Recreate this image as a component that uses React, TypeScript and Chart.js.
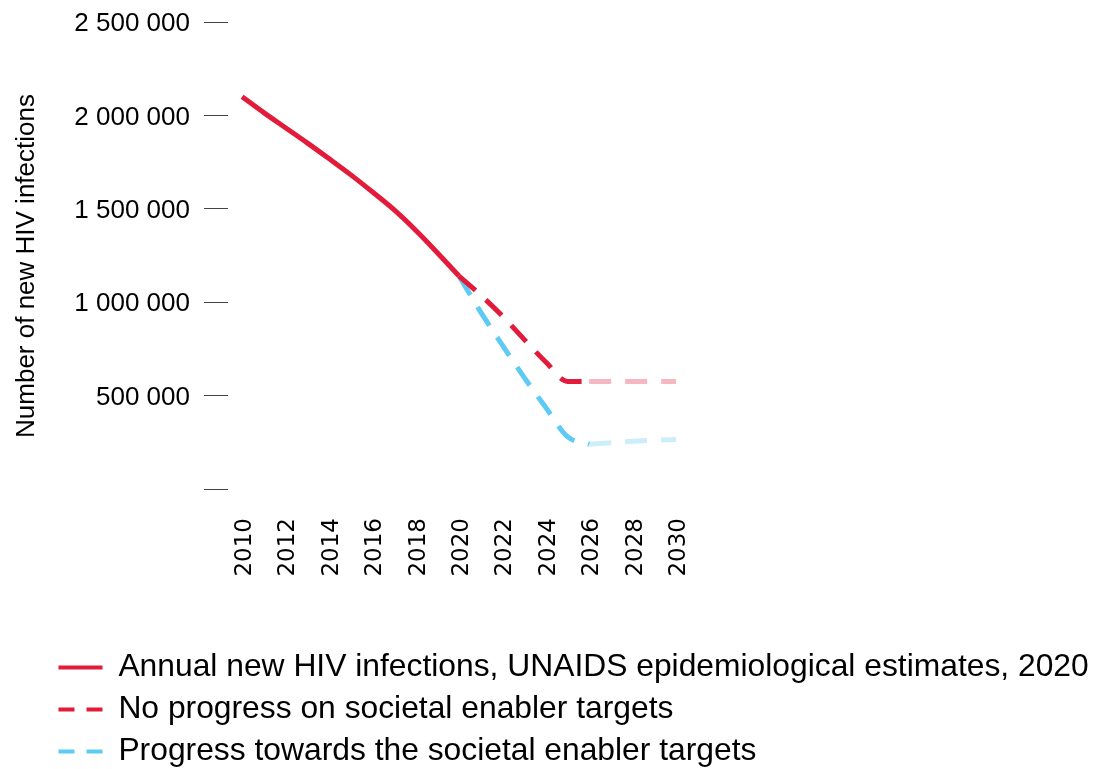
import React, { useEffect, useRef } from 'react';
import { Chart, registerables } from 'chart.js';

Chart.register(...registerables);

const estimateYears = [2010, 2011, 2012, 2013, 2014, 2015, 2016, 2017, 2018, 2019, 2020];
const estimateValues = [2100000, 2015000, 1934000, 1853000, 1769000, 1683000, 1591000, 1495000, 1385000, 1265000, 1140000];

const noProgressYears = [2020, 2021, 2022, 2023, 2024, 2025, 2026];
const noProgressValues = [1140000, 1038000, 926000, 801000, 680000, 576000, 575000];
const noProgressLaterYears = [2026, 2027, 2028, 2029, 2030];
const noProgressLaterValues = [575000, 575000, 575000, 575000, 575000];

const progressYears = [2020, 2021, 2022, 2023, 2024, 2025, 2026];
const progressValues = [1140000, 947000, 770000, 598000, 436000, 280000, 239000];
const progressLaterYears = [2026, 2027, 2028, 2029, 2030];
const progressLaterValues = [239000, 248000, 255000, 261000, 265000];

const xTickYears = [2010, 2012, 2014, 2016, 2018, 2020, 2022, 2024, 2026, 2028, 2030];
const yTickValues = [0, 500000, 1000000, 1500000, 2000000, 2500000];

const seriesLabels = [
  'Annual new HIV infections, UNAIDS epidemiological estimates, 2020',
  'No progress on societal enabler targets',
  'Progress towards the societal enabler targets',
];
const yAxisTitle = 'Number of new HIV infections';

const RED = '#E31B3B';
const PINK = '#F5B8C2';
const CYAN = '#5DCBF4';
const LIGHT_CYAN = '#CCEEFB';
const FONT = '"Liberation Sans", Arial, Helvetica, sans-serif';
const X_FONT = '"DejaVu Sans", "Liberation Sans", Arial, sans-serif';

const toPoints = (xs: number[], ys: number[]) => xs.map((x, i) => ({ x, y: ys[i] }));
const formatNumber = (v: number) => String(v).replace(/\B(?=(\d{3})+(?!\d))/g, ' ');

const LEGEND_FONT = 31.8;
const LEGEND_PAD = 10.2;

const layoutTweak = {
  id: 'layoutTweak',
  afterLayout(chart: any) {
    const lg = chart.legend;
    if (lg) {
      lg.left = 58.5 - LEGEND_PAD;
      lg.top = 667.5 - LEGEND_PAD - LEGEND_FONT / 2;
      lg.right = 1096;
      lg.bottom = 769;
      lg.width = lg.right - lg.left;
      lg.height = lg.bottom - lg.top;
    }
    const y = chart.scales.y;
    if (y) {
      // shifts only the axis title (tick positions are already configured)
      y.top += 10.5;
      y.bottom += 10.5;
    }
  },
};

export default function App() {
  const canvasRef = useRef<HTMLCanvasElement | null>(null);

  useEffect(() => {
    const canvas = canvasRef.current;
    if (!canvas) return;
    const dash = [22, 14];
    const lineDs = (label: string, xs: number[], ys: number[], color: string, dashed: boolean) => ({
      label,
      data: toPoints(xs, ys),
      borderColor: color,
      backgroundColor: color,
      borderWidth: 5,
      borderDash: dashed ? dash : [],
      pointRadius: 0,
      cubicInterpolationMode: 'monotone',
    });
    const chart = new Chart(canvas, {
      type: 'line',
      data: {
        datasets: [
          lineDs(seriesLabels[0], estimateYears, estimateValues, RED, false),
          lineDs(seriesLabels[1], noProgressYears, noProgressValues, RED, true),
          lineDs(seriesLabels[2], progressYears, progressValues, CYAN, true),
          lineDs('no-progress-later', noProgressLaterYears, noProgressLaterValues, PINK, true),
          lineDs('progress-later', progressLaterYears, progressLaterValues, LIGHT_CYAN, true),
        ],
      },
      options: {
        responsive: false,
        animation: false,
        events: [],
        layout: { padding: { left: 0, right: 404, top: 22, bottom: 0 } },
        scales: {
          x: {
            type: 'linear',
            min: 2009.35,
            max: 2030.74,
            grid: { display: false, drawTicks: false },
            border: { display: false },
            afterBuildTicks: (s: any) => {
              s.ticks = xTickYears.map((v) => ({ value: v }));
            },
            ticks: {
              autoSkip: false,
              minRotation: 90,
              maxRotation: 90,
              padding: 29,
              labelOffset: 3,
              color: '#000',
              font: { family: X_FONT, size: 23 },
              callback: (v: any) => String(v),
            },
            afterFit: (s: any) => {
              s.height = 144;
              s.paddingLeft = 0;
              s.paddingRight = 0;
            },
          },
          y: {
            min: 0,
            max: 2500000,
            grid: { drawOnChartArea: false, drawTicks: true, tickLength: 24, color: '#444', lineWidth: 1 },
            border: { display: false },
            afterBuildTicks: (s: any) => {
              s.ticks = yTickValues.map((v) => ({ value: v }));
            },
            ticks: {
              padding: 14,
              labelOffset: 2,
              color: '#000',
              font: { family: FONT, size: 26 },
              callback: (v: any) => (Number(v) === 0 ? '' : formatNumber(Number(v))),
            },
            title: {
              display: true,
              text: yAxisTitle,
              color: '#000',
              font: { family: FONT, size: 26 },
              padding: { top: 11, bottom: 0 },
            },
            afterFit: (s: any) => {
              s.width = 228;
              s.paddingTop = 0;
              s.paddingBottom = 0;
            },
          },
        },
        plugins: {
          tooltip: { enabled: false },
          legend: {
            display: true,
            position: 'bottom',
            align: 'start',
            labels: {
              font: { family: FONT, size: LEGEND_FONT },
              color: '#000',
              padding: LEGEND_PAD,
              usePointStyle: true,
              pointStyleWidth: 44,
              generateLabels: (ch: any) =>
                ch.data.datasets.slice(0, 3).map((ds: any, i: number) => ({
                  text: ds.label,
                  fillStyle: ds.borderColor,
                  strokeStyle: ds.borderColor,
                  lineWidth: 4,
                  lineDash: i === 0 ? [] : [16, 12],
                  lineCap: 'butt',
                  pointStyle: 'line',
                  hidden: false,
                  datasetIndex: i,
                  fontColor: '#000',
                })),
            },
          },
        },
      },
      plugins: [layoutTweak],
    } as any);
    return () => chart.destroy();
  }, []);

  return (
    <div style={{ position: 'fixed', left: 0, top: 0, width: 1096, height: 769, background: '#fff' }}>
      <canvas ref={canvasRef} width={1096} height={769} style={{ display: 'block' }} />
    </div>
  );
}
